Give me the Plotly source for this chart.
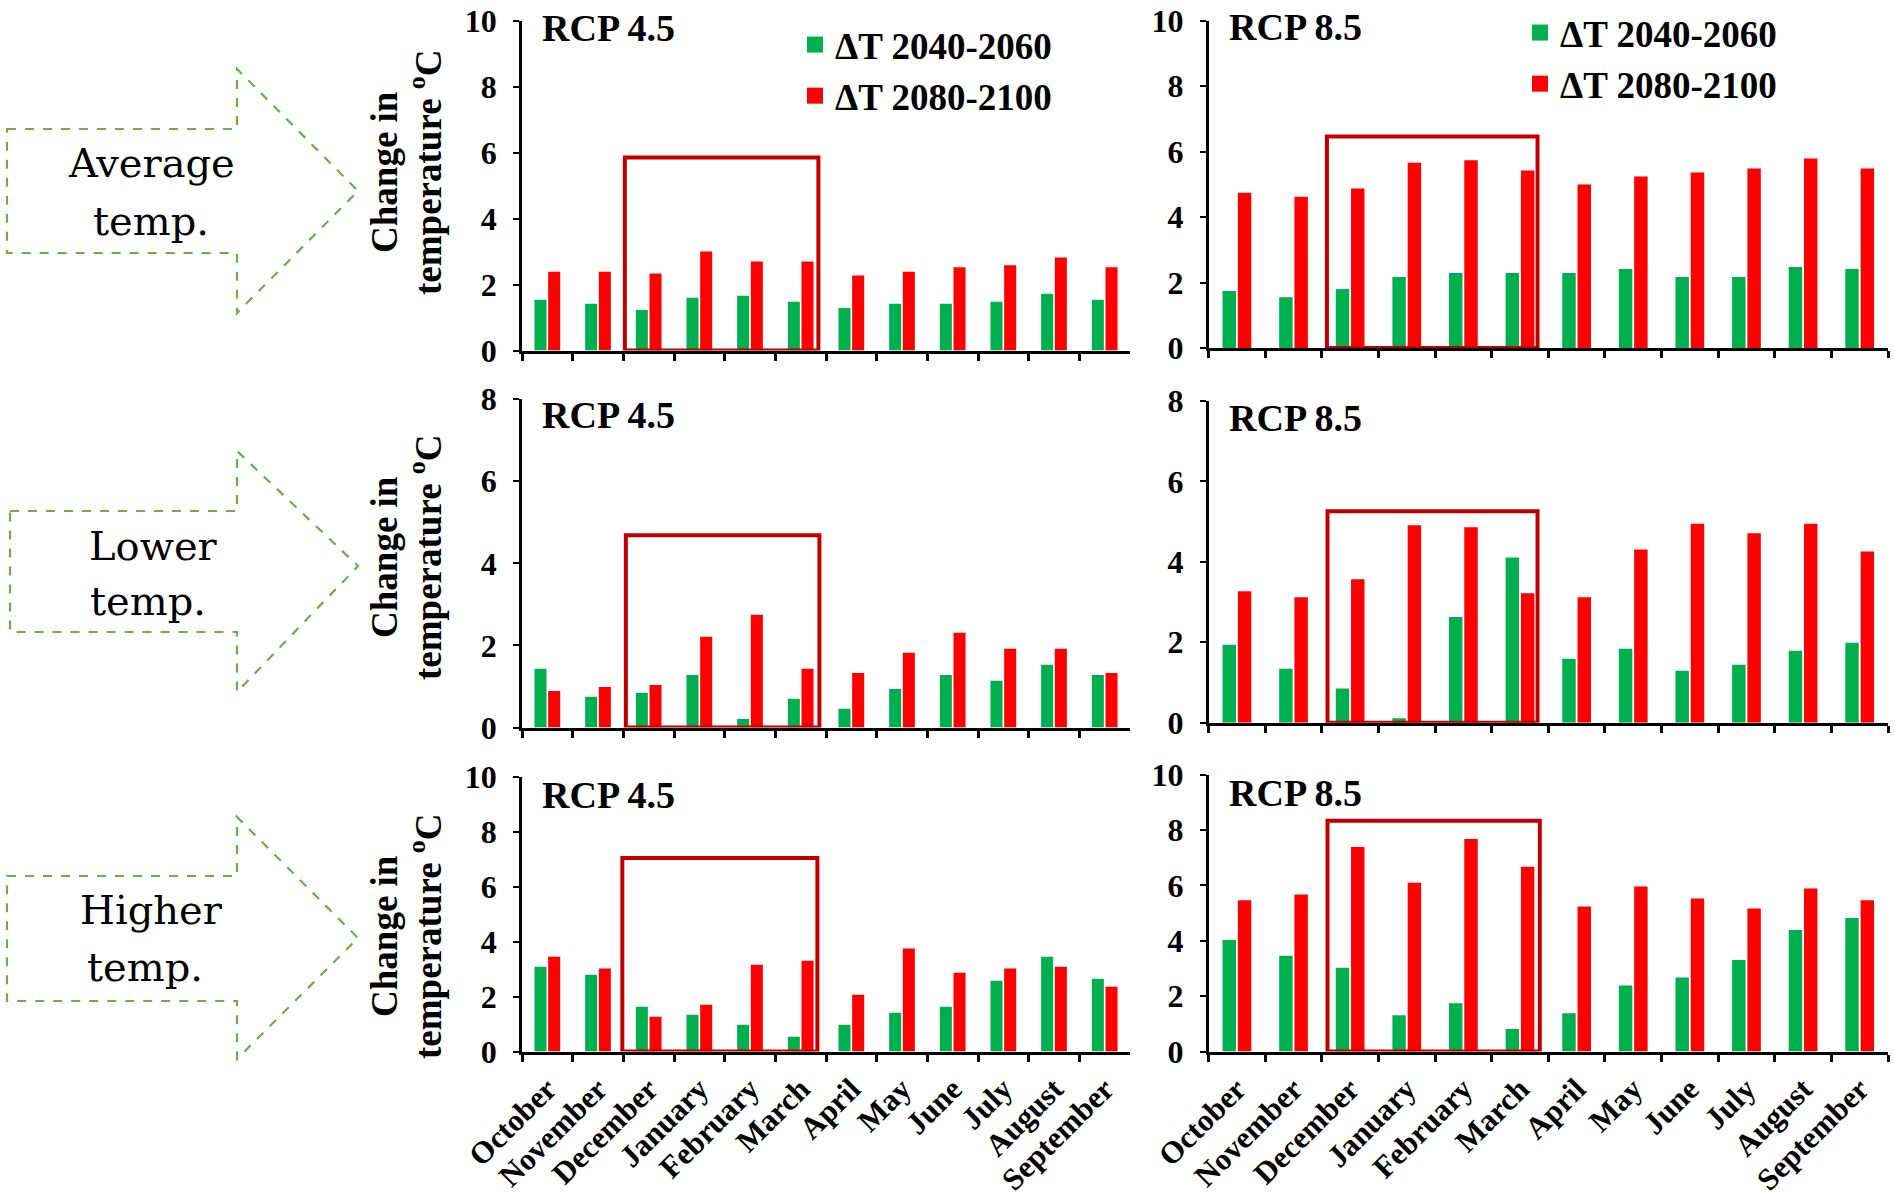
import numpy as np
import plotly.graph_objects as go

W, H = 1895, 1195

# ---------------- data ----------------
months = ["October", "November", "December", "January", "February", "March",
          "April", "May", "June", "July", "August", "September"]
series_names = ["ΔT 2040-2060", "ΔT 2080-2100"]
scenario_labels = ["RCP 4.5", "RCP 8.5"]
row_labels = [("Average", "temp."), ("Lower", "temp."), ("Higher", "temp.")]
y_title_lines = ("Change in", "temperature <sup>o</sup>C")

# Average temperature
avg_rcp45_2050 = [1.54, 1.42, 1.23, 1.60, 1.66, 1.48, 1.29, 1.42, 1.42, 1.48, 1.72, 1.54]
avg_rcp45_2090 = [2.39, 2.39, 2.33, 3.00, 2.70, 2.70, 2.27, 2.39, 2.52, 2.58, 2.82, 2.52]
avg_rcp85_2050 = [1.74, 1.55, 1.80, 2.17, 2.29, 2.29, 2.29, 2.41, 2.17, 2.17, 2.47, 2.41]
avg_rcp85_2090 = [4.74, 4.62, 4.87, 5.66, 5.73, 5.42, 4.99, 5.24, 5.36, 5.48, 5.79, 5.48]
# Lower temperature
low_rcp45_2050 = [1.43, 0.75, 0.85, 1.28, 0.21, 0.70, 0.46, 0.94, 1.28, 1.14, 1.53, 1.28]
low_rcp45_2090 = [0.89, 0.99, 1.04, 2.21, 2.75, 1.43, 1.33, 1.82, 2.31, 1.92, 1.92, 1.33]
low_rcp85_2050 = [1.94, 1.34, 0.85, 0.11, 2.63, 4.11, 1.59, 1.84, 1.29, 1.44, 1.79, 1.99]
low_rcp85_2090 = [3.27, 3.12, 3.57, 4.91, 4.86, 3.22, 3.12, 4.31, 4.95, 4.71, 4.95, 4.26]
# Higher temperature
high_rcp45_2050 = [3.09, 2.80, 1.63, 1.34, 0.97, 0.54, 0.97, 1.41, 1.63, 2.58, 3.45, 2.65]
high_rcp45_2090 = [3.45, 3.02, 1.27, 1.70, 3.16, 3.31, 2.07, 3.75, 2.87, 3.02, 3.09, 2.36]
high_rcp85_2050 = [4.03, 3.46, 3.03, 1.31, 1.74, 0.81, 1.38, 2.38, 2.67, 3.31, 4.39, 4.82]
high_rcp85_2090 = [5.46, 5.67, 7.39, 6.10, 7.68, 6.67, 5.24, 5.96, 5.53, 5.17, 5.89, 5.46]

panel_data = [
    (avg_rcp45_2050, avg_rcp45_2090), (avg_rcp85_2050, avg_rcp85_2090),
    (low_rcp45_2050, low_rcp45_2090), (low_rcp85_2050, low_rcp85_2090),
    (high_rcp45_2050, high_rcp45_2090), (high_rcp85_2050, high_rcp85_2090),
]
y_max = [10, 10, 8, 8, 10, 10]

# highlighted winter window (category index span, value top)
box_x0 = [1.53, 1.59, 1.55, 1.60, 1.48, 1.60]
box_x1 = [5.35, 5.31, 5.37, 5.31, 5.33, 5.35]
box_top = [5.85, 6.46, 4.68, 5.26, 7.05, 8.34]

# ---------------- layout geometry (pixels) ----------------
col_x = [(522, 1130), (1208.6, 1888)]
row_y = [[(20.5, 350.5), (20.5, 348)],
         [(399, 727.6), (401, 722.7)],
         [(777, 1051.5), (774.7, 1051.5)]]
scenario_label_y = [28, 27, 415, 418, 795, 793]

GREEN = "#00B050"
RED = "#FF0000"
BOX = "#C00000"
ARROW = "#70AD47"
SERIF = "Liberation Serif"


def px(x):
    return x / W


def py(y):
    return 1 - y / H


fig = go.Figure()
layout = dict(
    width=W, height=H,
    margin=dict(l=0, r=0, t=0, b=0, pad=0, autoexpand=False),
    paper_bgcolor="white", plot_bgcolor="white",
    barmode="group", bargap=0.46, bargroupgap=0.12,
    font=dict(family=SERIF, color="black"),
)

shapes = []
annotations = []
boundaries = np.arange(len(months) + 1) - 0.5

for i, (near, far) in enumerate(panel_data):
    r, c = divmod(i, 2)
    n = i + 1
    xa = "x" if n == 1 else f"x{n}"
    ya = "y" if n == 1 else f"y{n}"
    fig.add_trace(go.Bar(x=months, y=near, name=series_names[0], marker_color=GREEN,
                         marker_line_width=0, xaxis=xa, yaxis=ya, showlegend=False))
    fig.add_trace(go.Bar(x=months, y=far, name=series_names[1], marker_color=RED,
                         marker_line_width=0, xaxis=xa, yaxis=ya, showlegend=False))

    x0, x1 = col_x[c]
    ytop, ybot = row_y[r][c]
    bottom_row = (r == 2)
    layout[f"xaxis{n}"] = dict(
        domain=[px(x0), px(x1)], anchor=ya, type="category", automargin=False,
        range=[-0.5, len(months) - 0.5], categoryorder="array", categoryarray=months,
        showline=True, linecolor="black", linewidth=3,
        ticks="outside", tickson="boundaries", ticklen=7, tickwidth=2.5, tickcolor="black",
        showgrid=False, zeroline=False,
        showticklabels=bottom_row, tickangle=-45, ticklabelstandoff=4,
        tickfont=dict(family=SERIF, size=31, weight="bold", color="black"),
    )
    # inner half of the cross tick marks
    layout[f"xaxis{n + 6}"] = dict(
        overlaying=xa, anchor=ya, type="linear", automargin=False,
        range=[-0.5, len(months) - 0.5], tickmode="array", tickvals=boundaries,
        ticks="inside", ticklen=7, tickwidth=2.5, tickcolor="black",
        showticklabels=False, showline=False, showgrid=False, zeroline=False,
    )
    layout[f"yaxis{n}"] = dict(
        domain=[py(ybot), py(ytop)], anchor=xa, automargin=False,
        range=[0, y_max[i]], dtick=2, tick0=0,
        showline=True, linecolor="black", linewidth=2.5,
        ticks="outside", ticklen=6, tickwidth=2, tickcolor="black",
        showgrid=False, zeroline=False, ticklabelstandoff=10,
        tickfont=dict(family=SERIF, size=32, weight="bold", color="black"),
    )

    shapes.append(dict(type="rect", xref=xa, yref=ya,
                       x0=box_x0[i], x1=box_x1[i], y0=0, y1=box_top[i],
                       line=dict(color=BOX, width=4), fillcolor="rgba(0,0,0,0)",
                       layer="above"))

    # scenario label
    annotations.append(dict(text=scenario_labels[c], xref="paper", yref="paper",
                            x=px(x0 + 18), y=py(scenario_label_y[i]),
                            xanchor="left", yanchor="middle", showarrow=False,
                            font=dict(family=SERIF, size=38, weight="bold", color="black")))

# legend entries (one legend per column of the top row)
for leg in ("legend", "legend2"):
    for name, col in zip(series_names, (GREEN, RED)):
        fig.add_trace(go.Scatter(x=[None], y=[None], mode="markers", name=name,
                                 marker=dict(symbol="square", size=17, color=col),
                                 legend=leg, showlegend=True, hoverinfo="skip"))

# y titles, one per row (two lines each)
title_centers = [172, 557, 936]
for yc in title_centers:
    for txt, tx in zip(y_title_lines, (384, 425)):
        annotations.append(dict(text=txt, xref="paper", yref="paper",
                                x=px(tx), y=py(yc), xanchor="center", yanchor="middle",
                                textangle=-90, showarrow=False,
                                font=dict(family=SERIF, size=37, weight="bold", color="black")))

# dashed arrows with row labels
arrows = [
    [(7, 129), (237, 129), (237, 69), (358, 191), (237, 313), (237, 253), (7, 253)],
    [(10, 511), (237, 511), (237, 451), (358, 566), (237, 692), (237, 632), (10, 632)],
    [(7, 876), (237, 876), (237, 817), (358, 938), (237, 1059), (237, 1001), (7, 1001)],
]
label_pos = [((151, 163), (151, 221)), ((153, 546), (148, 601)), ((151, 910), (145, 967))]
for pts, pos, labs in zip(arrows, label_pos, row_labels):
    path = "M " + " L ".join(f"{px(x):.5f},{py(y):.5f}" for x, y in pts) + " Z"
    shapes.append(dict(type="path", xref="paper", yref="paper", path=path,
                       line=dict(color=ARROW, width=2.2, dash="dash")))
    for (lx, ly), lab in zip(pos, labs):
        annotations.append(dict(text=lab, xref="paper", yref="paper", x=px(lx), y=py(ly),
                                xanchor="center", yanchor="middle", showarrow=False,
                                font=dict(family="DejaVu Serif", size=40, color="black")))

legend_font = dict(family=SERIF, size=37, weight="bold", color="black")
layout["legend"] = dict(x=px(795), y=py(14), xanchor="left", yanchor="top",
                        bgcolor="rgba(0,0,0,0)", font=legend_font, tracegroupgap=0,
                        itemwidth=30)
layout["legend2"] = dict(x=px(1520), y=py(2), xanchor="left", yanchor="top",
                         bgcolor="rgba(0,0,0,0)", font=legend_font, tracegroupgap=0,
                         itemwidth=30)
layout["shapes"] = shapes
layout["annotations"] = annotations
fig.update_layout(**layout)

fig.write_html("out.html",
               config={"displayModeBar": False},
               post_script="document.body.style.margin='0';"
                           "document.body.style.overflow='hidden';")
